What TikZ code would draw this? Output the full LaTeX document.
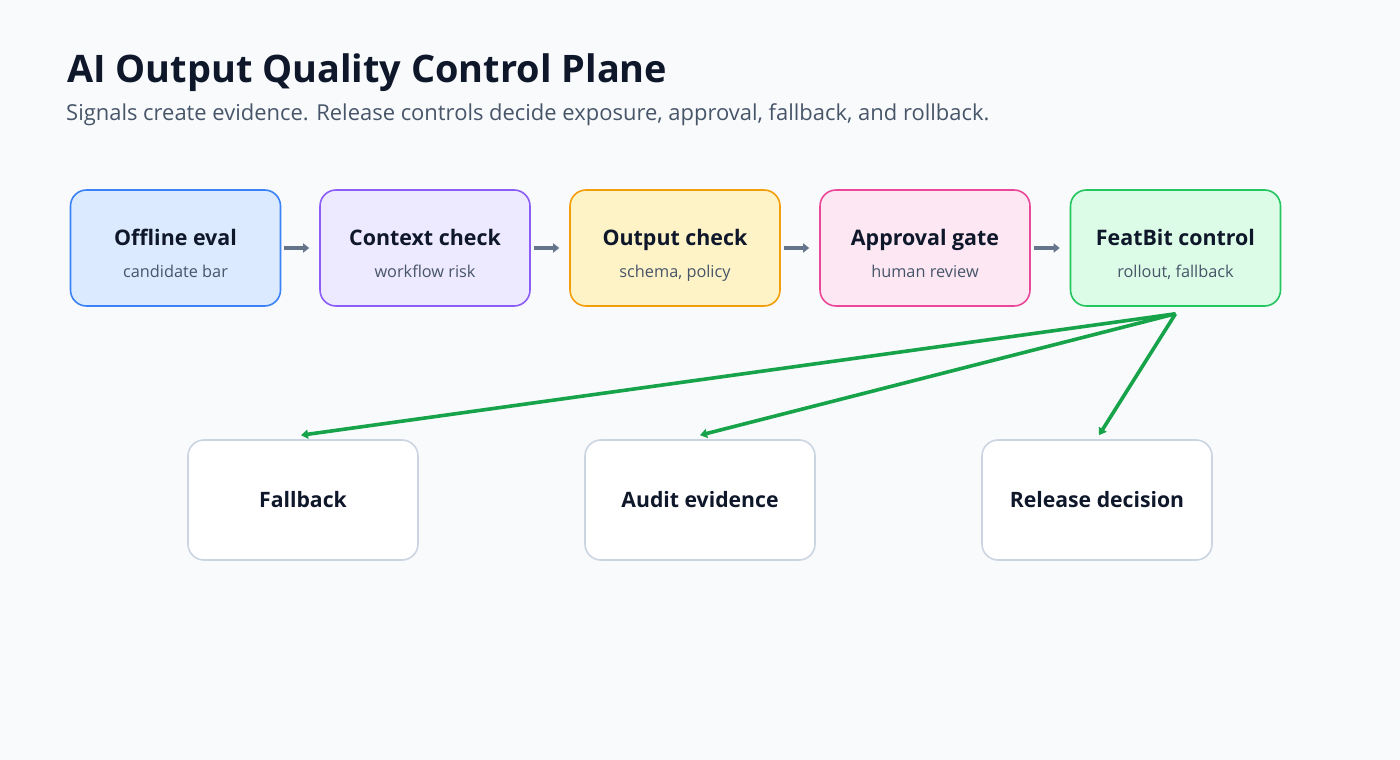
\documentclass[tikz,border=0pt]{standalone}
\usepackage{fontspec}
\setmainfont{Open Sans}
\usetikzlibrary{arrows.meta, positioning, calc}
\definecolor{pagebg}{HTML}{F8FAFC}
\definecolor{ink}{HTML}{0F172A}
\definecolor{subink}{HTML}{475569}
\definecolor{flowgray}{HTML}{64748B}
\definecolor{ctrlgreen}{HTML}{16A34A}
\definecolor{outline}{HTML}{CBD5E1}
\definecolor{blueFill}{HTML}{DBEAFE}   \definecolor{blueLine}{HTML}{3B82F6}
\definecolor{violetFill}{HTML}{EDE9FE} \definecolor{violetLine}{HTML}{8B5CF6}
\definecolor{amberFill}{HTML}{FEF3C7}  \definecolor{amberLine}{HTML}{F59E0B}
\definecolor{pinkFill}{HTML}{FCE7F3}   \definecolor{pinkLine}{HTML}{EC4899}
\definecolor{greenFill}{HTML}{DCFCE7}  \definecolor{greenLine}{HTML}{22C55E}
\tikzset{
	stagebox/.style={rounded corners=16pt, line width=1.6pt, minimum width=210pt, minimum height=116pt, inner sep=0pt},
	stagetitle/.style={anchor=base, font=\fontsize{21.4}{25}\selectfont\bfseries, text=ink, inner sep=0pt},
	stagesub/.style={anchor=base, font=\fontsize{16.3}{19}\selectfont, text=subink, inner sep=0pt},
	outbox/.style={rounded corners=16pt, line width=1.6pt, draw=outline, fill=white, minimum width=230pt, minimum height=120pt, inner sep=0pt,
		font=\fontsize{21.2}{25}\selectfont\bfseries, text=ink},
	flow/.style={draw=flowgray, line width=3.6pt, -{Triangle[length=6pt, width=9pt]}},
	ctrl/.style={draw=ctrlgreen, line width=3.6pt, -{Triangle[length=7pt, width=9pt]}}
}
\newcommand{\stage}[6]{%
	\node[stagebox, fill=#3Fill, draw=#3Line] (#1) at (#2,248) {};
	\node[stagetitle] (#1-t) at (#2,245) {#4};
	\node[stagesub] (#1-s) at (#2,277) {#5};
	#6}
\begin{document}
\begin{tikzpicture}[x=1pt, y=-1pt]
	\fill[pagebg] (0,0) rectangle (1400,760);
	\useasboundingbox (0,0) rectangle (1400,760);
	\node[anchor=base west, inner sep=0pt, font=\fontsize{37.9}{42}\selectfont\bfseries, text=ink] (title) at (67,82) {AI Output Quality Control Plane};
	\node[anchor=base west, inner sep=0pt, font=\fontsize{21.95}{26}\selectfont, text=subink] (subtitle) at (66,120) {Signals create evidence. Release controls decide exposure, approval, fallback, and rollback.};
	% signal stages
	\stage{offline}{175.5}{blue}{Offline eval}{candidate bar}{}
	\stage{context}{425}{violet}{Context check}{workflow risk}{}
	\stage{output}{675}{amber}{Output check}{schema, policy}{}
	\stage{approval}{925}{pink}{Approval gate}{human review}{}
	\stage{featbit}{1175.5}{green}{FeatBit control}{rollout, fallback}{}
	\draw[flow] ([xshift=3pt]offline.east) -- ([xshift=-10pt]context.west);
	\draw[flow] ([xshift=3pt]context.east) -- ([xshift=-10pt]output.west);
	\draw[flow] ([xshift=3pt]output.east) -- ([xshift=-10pt]approval.west);
	\draw[flow] ([xshift=3pt]approval.east) -- ([xshift=-10pt]featbit.west);
	% release outcomes
	\node[outbox] (fallback) at (303,500) {Fallback};
	\node[outbox] (audit) at (700,500) {Audit evidence};
	\node[outbox] (release) at (1097,500) {Release decision};
	\coordinate (src) at ([yshift=-7pt]featbit.south);
	\draw[ctrl] (src) -- ([xshift=-2pt, yshift=4pt]fallback.north);
	\draw[ctrl] (src) -- ([yshift=4pt]audit.north);
	\draw[ctrl] (src) -- ([xshift=2pt, yshift=4pt]release.north);
\end{tikzpicture}
\end{document}
